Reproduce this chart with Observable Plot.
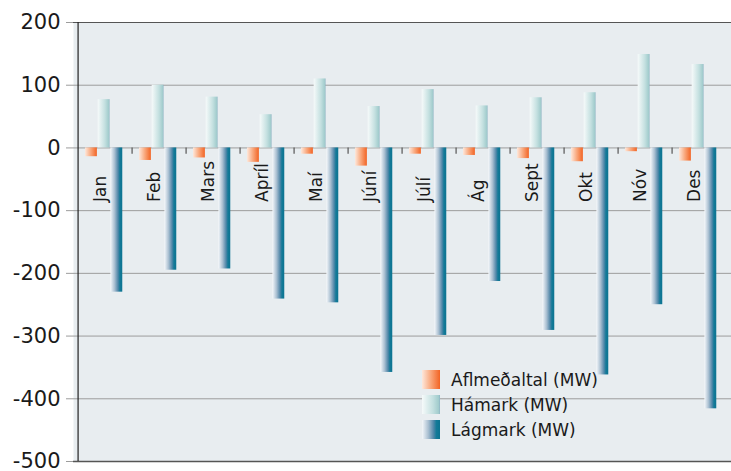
<!DOCTYPE html>
<html>
<head>
<meta charset="utf-8">
<script src="https://cdn.jsdelivr.net/npm/d3@7"></script>
<script src="https://cdn.jsdelivr.net/npm/@observablehq/plot@0.6"></script>
<style>
  body { margin: 0; background: #ffffff; }
  #wrap { position: relative; width: 731px; height: 471px; }
  #legend { position: absolute; left: 422px; top: 370px; font-family: "DejaVu Sans", sans-serif; font-size: 17px; color: #1a1a1a; }
  .row { display: flex; align-items: center; height: 19px; margin-bottom: 6px; }
  .sw { width: 18px; height: 19px; margin-right: 11px; }
</style>
</head>
<body>
<div id="wrap"><div id="legend"></div></div>
<script>
const months = ["Jan", "Feb", "Mars", "Apríl", "Maí", "Júní", "Júlí", "Ág", "Sept", "Okt", "Nóv", "Des"];
const aflmedaltal = [-14, -20, -16, -23, -10, -29, -10, -12, -17, -22, -6, -21];
const hamark = [77, 100, 81, 53, 110, 66, 93, 67, 80, 88, 149, 133];
const lagmark = [-230, -195, -193, -241, -247, -358, -299, -213, -291, -362, -250, -416];
const seriesNames = ["Aflmeðaltal (MW)", "Hámark (MW)", "Lágmark (MW)"];
const yTicks = [200, 100, 0, -100, -200, -300, -400, -500];
const gridTicks = [100, 0, -100, -200, -300, -400];

const seriesValues = [aflmedaltal, hamark, lagmark];
const gradIds = ["gOrange", "gLight", "gDark"];
const gradStops = [
  [[0, "#fde8dc"], [0.5, "#f9a67a"], [1, "#f26424"]],
  [[0, "#f6fafa"], [0.6, "#c4e0e0"], [0.92, "#a2cccd"], [1, "#8fb4c4"]],
  [[0, "#f4f7fa"], [0.35, "#a9bfd1"], [0.65, "#4f86a8"], [0.8, "#137a98"], [1, "#0b7391"]]
];

const rows = [];
seriesValues.forEach((vals, s) => vals.forEach((v, i) => rows.push({month: months[i], series: s, value: v})));

const W = 731, H = 471, mL = 73, mR = 0;
const bw = (W - mL - mR) / months.length;
const off = 7, barW = 12.7;

const chart = Plot.plot({
  width: W,
  height: H,
  marginLeft: mL,
  marginRight: mR,
  marginTop: 22,
  marginBottom: 10,
  style: {fontFamily: "DejaVu Sans", background: "transparent", overflow: "visible"},
  x: {domain: months, padding: 0, axis: null},
  y: {domain: [-500, 200], axis: null},
  marks: [
    Plot.frame({fill: "#e8edf0", stroke: null}),
    Plot.ruleY(gridTicks, {stroke: "#9c9c9c", strokeWidth: 1}),
    ...[0, 1, 2].map(s => Plot.barY(rows.filter(d => d.series === s), {
      x: "month", y1: 0, y2: "value",
      fill: `url(#${gradIds[s]})`,
      insetLeft: off + s * barW,
      insetRight: bw - off - (s + 1) * barW
    })),
    Plot.ruleX(months.slice(1), {x: d => d, y1: 0, y2: -10, dx: -bw / 2, stroke: "#555", strokeWidth: 1.2}),
    Plot.text(months, {x: d => d, y: 0, dy: 54, dx: -5, rotate: -90, textAnchor: "start", fontSize: 17, fill: "#1a1a1a"}),
    Plot.ruleY([200], {stroke: "#555", strokeWidth: 1.2}),
    Plot.ruleY([-500], {stroke: "#555", strokeWidth: 1.5}),
    Plot.ruleX([months[0]], {x: d => d, dx: -bw / 2, stroke: "#222", strokeWidth: 1.2}),
    Plot.axisY({ticks: yTicks, label: null, tickSize: 7, tickPadding: 6, stroke: "#9c9c9c", fontSize: 21, fontFamily: "DejaVu Sans", tickFormat: d => String(d)})
  ]
});

const defs = d3.select(chart).insert("defs", ":first-child");
gradIds.forEach((id, s) => {
  const g = defs.append("linearGradient").attr("id", id).attr("x1", 0).attr("x2", 1).attr("y1", 0).attr("y2", 0);
  gradStops[s].forEach(([o, c]) => g.append("stop").attr("offset", o).attr("stop-color", c));
});
d3.select(chart).selectAll("text").attr("fill", "#1a1a1a");

const wrap = document.getElementById("wrap");
wrap.insertBefore(chart, wrap.firstChild);

const legend = document.getElementById("legend");
seriesNames.forEach((name, s) => {
  const row = document.createElement("div");
  row.className = "row";
  const sw = document.createElement("div");
  sw.className = "sw";
  sw.style.background = "linear-gradient(to right, " + gradStops[s].map(([o, c]) => c + " " + (o * 100) + "%").join(", ") + ")";
  const label = document.createElement("span");
  label.textContent = name;
  row.appendChild(sw);
  row.appendChild(label);
  legend.appendChild(row);
});
</script>
</body>
</html>
